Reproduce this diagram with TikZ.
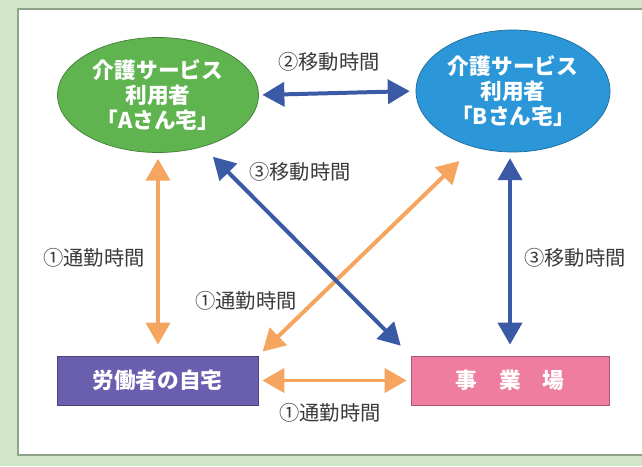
\documentclass[tikz,border=0pt]{standalone}
\usepackage{fontspec}
\setmainfont{Noto Sans CJK JP}
\usepackage{xcolor}
\usetikzlibrary{arrows.meta,shapes.geometric}

\definecolor{bggreen}{HTML}{D2E6C8}
\definecolor{panelline}{HTML}{8FA487}
\definecolor{usergreen}{HTML}{5FB450}
\definecolor{userblue}{HTML}{2C97D8}
\definecolor{homepurple}{HTML}{6A5FAF}
\definecolor{officepink}{HTML}{EF7DA0}
\definecolor{commuteorange}{HTML}{F5A55F}
\definecolor{moveblue}{HTML}{3A5AA5}
\definecolor{taggray}{HTML}{3A3A3A}

\begin{document}
\begin{tikzpicture}[x=0.03cm,y=-0.03cm,
	user/.style={ellipse, inner sep=0pt, minimum width=6.03cm, minimum height=3.45cm, align=center, text=white, font=\fontsize{18.5}{21.5}\selectfont\bfseries},
	place/.style={rectangle, inner sep=0pt, minimum height=1.47cm, text=white, font=\fontsize{18.5}{21.5}\selectfont\bfseries},
	tag/.style={text=taggray, font=\fontsize{17.3}{20}\selectfont},
	commute/.style={draw=commuteorange, line width=3.4pt, {Triangle[length=0.66cm,width=0.72cm]}-{Triangle[length=0.66cm,width=0.72cm]}},
	move/.style={draw=moveblue, line width=3.4pt, {Triangle[length=0.66cm,width=0.72cm]}-{Triangle[length=0.66cm,width=0.72cm]}}]
	\useasboundingbox (0,0) rectangle (642,466);
	
	% Background and panel
	\fill[bggreen] (0,0) rectangle (642,466);
	\draw[panelline, line width=1.2pt, fill=white] (18,9) rectangle (645,455);
	
	% Homes of the care users
	\node[user, fill=usergreen, draw=usergreen!70!black, line width=0.6pt] (userA) at (158,95) {介護サービス\\利用者\\「Aさん宅」};
	\node[user, fill=userblue, draw=userblue!70!black, line width=0.6pt, minimum width=5.82cm, minimum height=3.66cm] (userB) at (513,91) {介護サービス\\利用者\\「Bさん宅」};
	
	% Worker's home and office
	\node[place, fill=homepurple, draw=homepurple!70!black, line width=0.6pt, minimum width=6.03cm] (home) at (157.5,380.5) {労働者の自宅};
	\node[place, fill=officepink, draw=officepink!70!black, line width=0.6pt, minimum width=5.94cm] (office) at (510,380.5) {事　業　場};
	
	% Commuting
	\draw[commute, shorten <=5pt, shorten >=9.4pt] (userA.south) -- (userA.south |- home.north);
	\draw[commute, shorten <=17pt, shorten >=5pt] (userB.-125) -- (home.north east);
	\draw[commute, shorten <=3.4pt, shorten >=3.4pt] (home.east) -- (office.west);
	
	% Moving between places
	\draw[move, shorten <=3pt, shorten >=5pt] (userA.east) -- (userB.west);
	\draw[move, shorten <=12pt, shorten >=12pt] (userA.-49) -- (office.north west);
	\draw[move, shorten <=5pt, shorten >=9.4pt] (userB.south -| office.north) -- (office.north);
	
	% Labels
	\node[tag] (tagAB) at (329,62) {②移動時間};
	\node[tag] (tagAoffice) at (300,172) {③移動時間};
	\node[tag] (tagAhome) at (94,258) {①通勤時間};
	\node[tag] (tagBhome) at (246,301) {①通勤時間};
	\node[tag] (tagBoffice) at (575,258) {③移動時間};
	\node[tag] (taghomeoffice) at (330,413) {①通勤時間};
\end{tikzpicture}
\end{document}
